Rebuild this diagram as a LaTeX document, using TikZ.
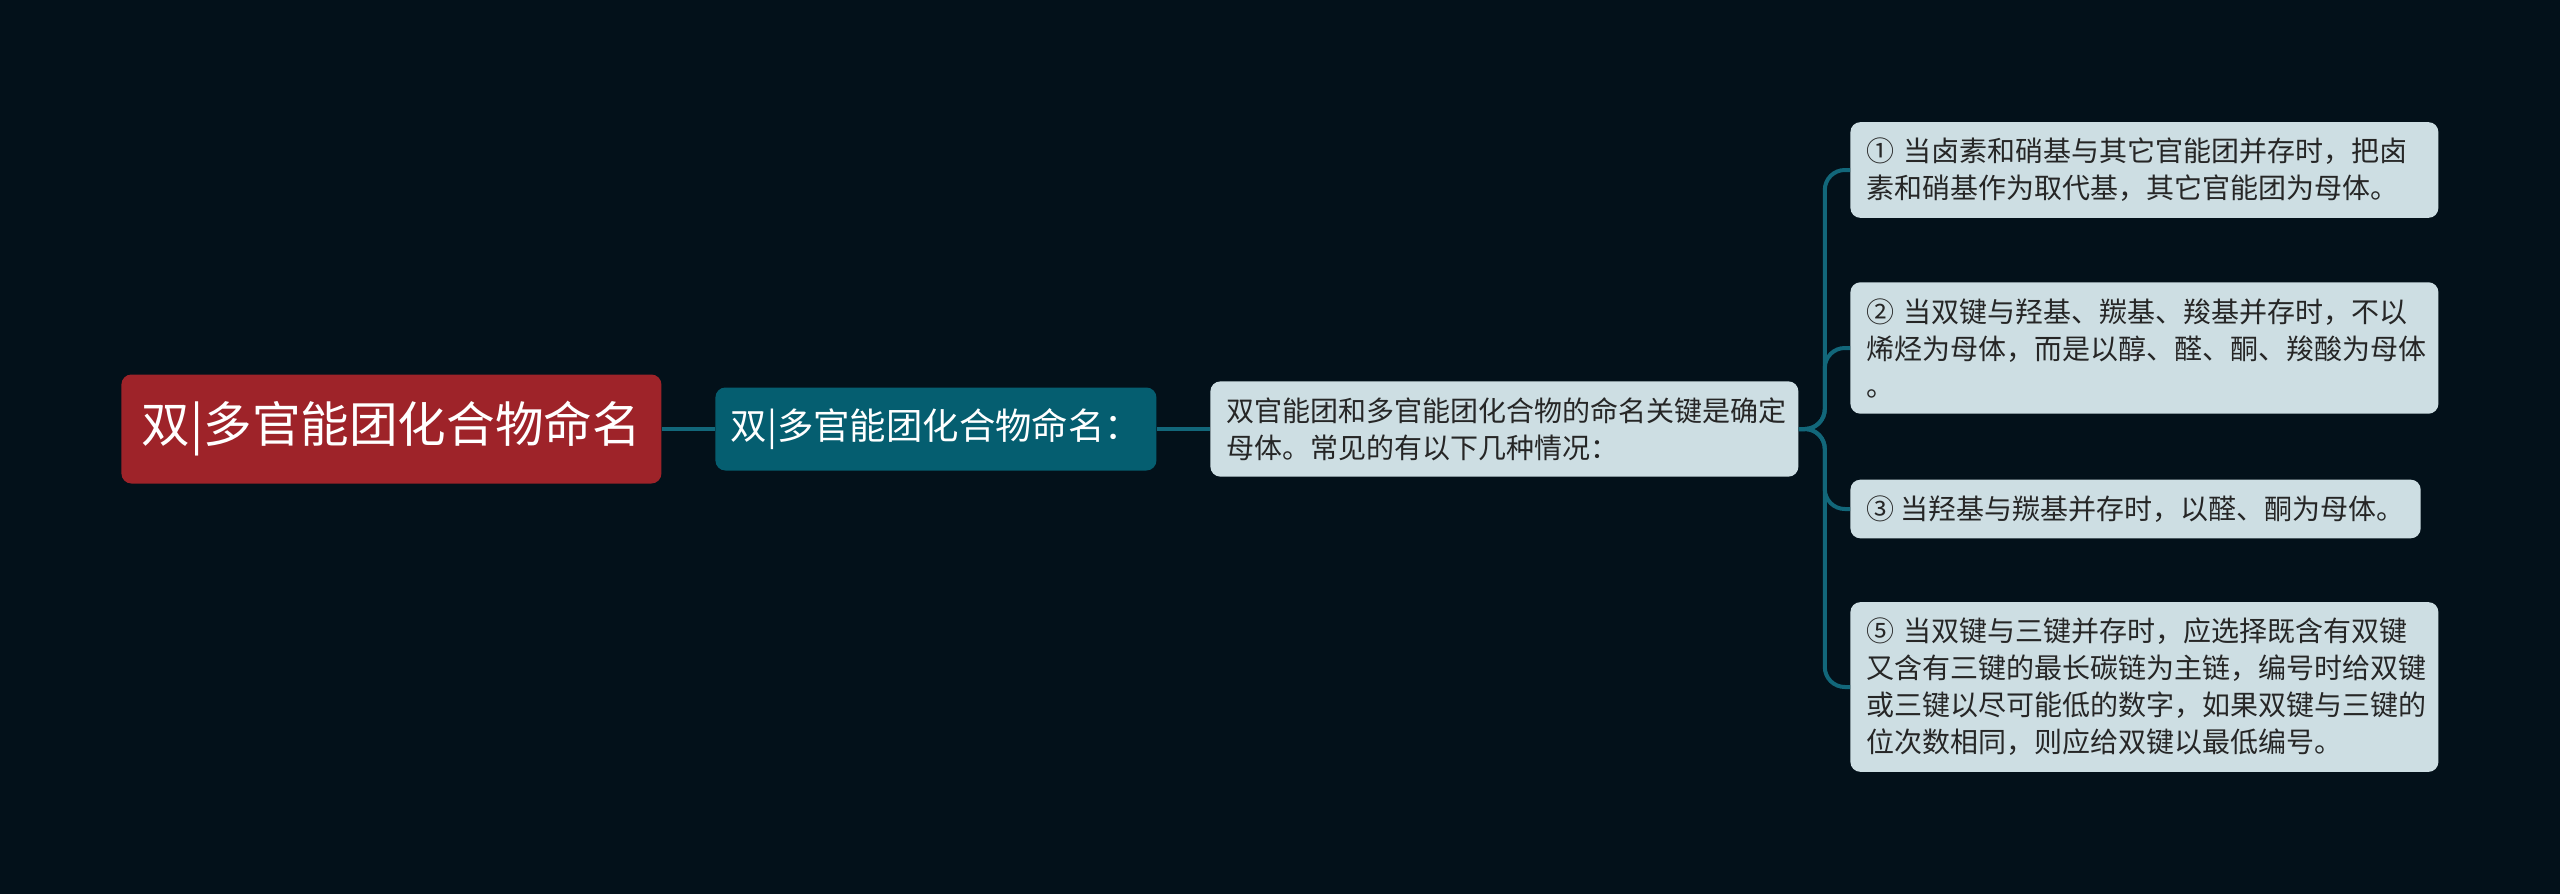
\documentclass[tikz,border=0pt]{standalone}
\usepackage{fontspec}
\setmainfont{Noto Sans CJK SC}
\definecolor{bgdark}{HTML}{03111A}
\definecolor{rootred}{HTML}{9E2329}
\definecolor{subteal}{HTML}{055E70}
\definecolor{leafgray}{HTML}{CDDEE3}
\definecolor{linkteal}{HTML}{12677A}
\tikzset{
  rootbox/.style={fill=rootred,rounded corners=5pt,text=white,
    minimum width=270pt,minimum height=54.5pt,inner sep=0pt,
    font=\fontsize{24.3pt}{28pt}\selectfont},
  subbox/.style={fill=subteal,rounded corners=5pt,text=white,
    minimum width=220.5pt,minimum height=41.5pt,inner sep=0pt,
    font=\fontsize{18.2pt}{21pt}\selectfont},
  leafbox/.style={fill=leafgray,rounded corners=5pt,text=black!85,
    align=left,inner xsep=8pt,inner ysep=8pt,
    font=\fontsize{14pt}{18.5pt}\selectfont},
  link/.style={draw=linkteal,line width=2pt,rounded corners=10pt},
}
\begin{document}
\begin{tikzpicture}[x=0.5pt,y=-0.5pt]
  \useasboundingbox[fill=bgdark] (0,0) rectangle (2560,894);
  \node[rootbox,anchor=west] (root) at (121,429) {双|多官能团化合物命名};
  \node[subbox,anchor=west] (sub) at (715,429) {双|多官能团化合物命名：};
  \node[leafbox,anchor=west,text width=278pt] (mid) at (1210,429)
    {双官能团和多官能团化合物的命名关键是确定\\母体。常见的有以下几种情况：};
  \node[leafbox,anchor=west,text width=278pt] (l1) at (1850,170)
    {① 当卤素和硝基与其它官能团并存时，把卤\\素和硝基作为取代基，其它官能团为母体。};
  \node[leafbox,anchor=west,text width=278pt] (l2) at (1850,348)
    {② 当双键与羟基、羰基、羧基并存时，不以\\烯烃为母体，而是以醇、醛、酮、羧酸为母体\\。};
  \node[leafbox,anchor=west] (l3) at (1850,509)
    {③ 当羟基与羰基并存时，以醛、酮为母体。};
  \node[leafbox,anchor=west,text width=278pt] (l4) at (1850,687)
    {⑤ 当双键与三键并存时，应选择既含有双键\\又含有三键的最长碳链为主链，编号时给双键\\或三键以尽可能低的数字，如果双键与三键的\\位次数相同，则应给双键以最低编号。};
  \draw[link] (root.east) -- (sub.west);
  \draw[link] (sub.east) -- (mid.west);
  \foreach \leaf in {l1,l2,l3,l4}
    \draw[link] (mid.east) -- ++(13pt,0) |- (\leaf.west);
\end{tikzpicture}
\end{document}
